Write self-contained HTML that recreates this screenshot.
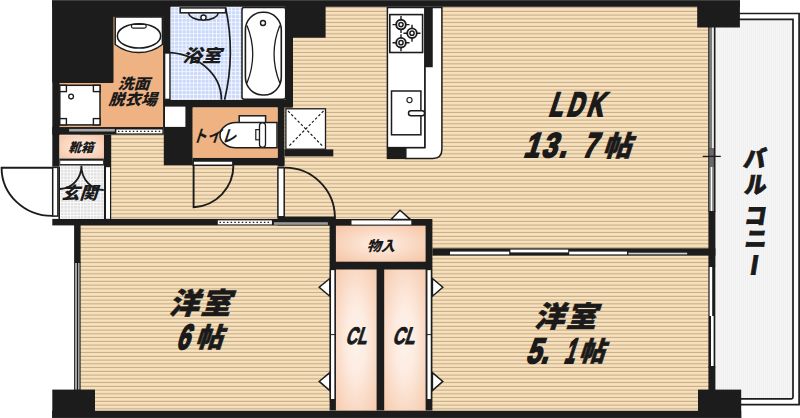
<!DOCTYPE html>
<html lang="ja">
<head>
<meta charset="utf-8">
<title>間取り図</title>
<style>
html,body{margin:0;padding:0;background:#fff;}
body{width:800px;height:418px;overflow:hidden;}
svg{display:block;}
text{font-family:"Liberation Sans","Noto Sans CJK JP",sans-serif;font-weight:900;font-style:normal;fill:#1a1a1a;}
.k{fill:#1c1c1c;}
.w{fill:#fff;stroke:#1c1c1c;stroke-width:1.5;}
.l{fill:none;stroke:#1c1c1c;stroke-width:1.5;}
</style>
</head>
<body>
<svg width="800" height="418" viewBox="0 0 800 418">
<defs>
  <pattern id="wood" x="0" y="0.6" width="8" height="3.75" patternUnits="userSpaceOnUse">
    <rect width="8" height="3.75" fill="#f8e1bd"/>
    <rect y="2.7" width="8" height="0.95" fill="#bfa47e"/>
  </pattern>
  <pattern id="tileb" x="170.4" y="6.6" width="3.8" height="3.8" patternUnits="userSpaceOnUse">
    <rect width="3.8" height="3.8" fill="#f4f7ff"/>
    <rect x="0.9" y="0.9" width="2.9" height="2.9" fill="#c9d8fa"/>
  </pattern>
  <pattern id="tileg" x="60.2" y="165.7" width="3.3" height="3.3" patternUnits="userSpaceOnUse">
    <rect width="3.3" height="3.3" fill="#ffffff"/>
    <rect x="0.7" y="0.7" width="2.6" height="2.6" fill="#e2e2e2"/>
  </pattern>
  <pattern id="balc" x="715" y="0" width="2" height="8" patternUnits="userSpaceOnUse">
    <rect width="2" height="8" fill="#f5f5f5"/>
    <rect width="0.7" height="8" fill="#eeeeee"/>
  </pattern>
  <radialGradient id="stor" cx="50%" cy="50%" r="70%">
    <stop offset="0" stop-color="#feefe6"/>
    <stop offset="1" stop-color="#f6c5a5"/>
  </radialGradient>
  <radialGradient id="clg" cx="50%" cy="50%" r="72%">
    <stop offset="0" stop-color="#fef3ec"/>
    <stop offset="0.35" stop-color="#fdebe0"/>
    <stop offset="1" stop-color="#f6c9ab"/>
  </radialGradient>
</defs>

<!-- floors -->
<rect x="80" y="7" width="630" height="404" fill="url(#wood)"/>
<!-- balcony -->
<rect x="715" y="19" width="78.5" height="379.4" fill="url(#balc)"/>
<path d="M739 13.5H799.1V404.7H741" class="l" style="stroke-width:1.7"/>
<path d="M739 19.3H793V397.2Q793 398.8 791.4 398.8H741" class="l" style="stroke-width:1.7"/>
<!-- walls -->
<g class="k">
<rect x="52.1" y="0.0" width="687.8" height="6.8"/>
<rect x="52.3" y="0.0" width="60.7" height="82.5"/>
<rect x="112.0" y="0.0" width="58.8" height="16.3"/>
<rect x="52.3" y="0.0" width="7.2" height="166.6"/>
<rect x="163.3" y="0.0" width="7.5" height="107.5"/>
<rect x="163.8" y="100.0" width="127.9" height="7.5"/>
<rect x="163.8" y="100.0" width="28.9" height="65.3"/>
<rect x="52.3" y="127.1" width="111.5" height="7.6"/>
<rect x="103.8" y="134.7" width="7.4" height="84.8"/>
<rect x="59.5" y="158.3" width="44.3" height="7.4"/>
<rect x="192.7" y="157.8" width="91.7" height="7.5"/>
<rect x="277.6" y="100.0" width="6.8" height="66.6"/>
<rect x="285.4" y="0.0" width="7.6" height="107.5"/>
<rect x="285.4" y="0.0" width="40.2" height="37.7"/>
<rect x="284.4" y="149.4" width="48.9" height="7.0"/>
<rect x="52.3" y="218.9" width="283.6" height="6.5"/>
<rect x="277.6" y="217.6" width="58.3" height="7.8"/>
<rect x="329.6" y="219.0" width="102.8" height="191.5"/>
<rect x="432.4" y="248.3" width="283.0" height="7.3"/>
<rect x="74.1" y="218.9" width="6.5" height="43.9"/>
<rect x="52.3" y="389.6" width="42.7" height="28.4"/>
<rect x="52.1" y="410.8" width="689.1" height="7.2"/>
<rect x="698.0" y="389.6" width="43.2" height="28.4"/>
<rect x="697.2" y="0.0" width="42.7" height="27.5"/>
<rect x="708.4" y="211.3" width="7.0" height="55.3"/>
<rect x="708.4" y="366.5" width="7.0" height="23.5"/>
<rect x="424.8" y="7.0" width="7.2" height="59.4"/>
<rect x="386.7" y="147.6" width="19.1" height="11.5"/>
</g>
<rect x="52.1" y="0" width="687.8" height="0.8" fill="#4a4a4a"/>
<rect x="52.1" y="417.3" width="689.1" height="0.7" fill="#303030"/>
<!-- washroom -->
<path d="M113 16.3H163.6V127.6H59V82.5H113Z" fill="#eeb283" stroke="#1c1c1c" stroke-width="1"/>
<path d="M115.2 17H162.4V44.5A38.5 38.5 0 0 1 115.2 44.5Z" class="w"/>
<ellipse cx="139" cy="35.9" rx="21.6" ry="12.2" class="w"/>
<rect x="131.4" y="24.3" width="14.8" height="3.8" rx="1.8" class="w" style="stroke-width:1.2"/>
<rect x="59.8" y="85.3" width="40.2" height="39.6" class="w"/>
<rect x="59.8" y="85.3" width="6.6" height="6.3" class="w" style="stroke-width:1.4"/>
<rect x="93.4" y="85.3" width="6.6" height="6.3" class="w" style="stroke-width:1.4"/>
<rect x="59.8" y="118.6" width="6.6" height="6.3" class="w" style="stroke-width:1.4"/>
<rect x="93.4" y="118.6" width="6.6" height="6.3" class="w" style="stroke-width:1.4"/>
<circle cx="71.1" cy="96.6" r="2.4" class="w" style="stroke-width:1.3"/>
<rect x="69.1" y="128.9" width="45.7" height="2.6" fill="#a8a8a8"/>
<rect x="116.4" y="129.5" width="46" height="3.9" fill="#fff"/>
<path d="M118 131.45H161.5" stroke="#1c1c1c" stroke-width="1.3" stroke-dasharray="1.5 2.2" fill="none"/>
<!-- bathroom -->
<rect x="170.4" y="6.9" width="71.6" height="92.8" fill="url(#tileb)"/>
<rect x="242" y="7.6" width="43.7" height="91.7" rx="2.2" class="w"/>
<rect x="245.4" y="12.3" width="35.9" height="82.7" rx="17" ry="18" class="w" style="stroke-width:1.6"/>
<path d="M247 25.5Q258.5 54 247 83" class="l" style="stroke-width:1.3"/>
<path d="M279.8 25.5Q268.3 54 279.8 83" class="l" style="stroke-width:1.3"/>
<circle cx="263" cy="23" r="2.5" class="w" style="stroke-width:1.4"/>
<path d="M188.7 12.8A14.7 7.3 0 0 0 218.1 12.8" class="l"/>
<rect x="180.2" y="7.9" width="45.4" height="4.9" class="w"/>
<circle cx="203.5" cy="17.6" r="2.6" class="w" style="stroke-width:1.4"/>
<path d="M225.6 7.6Q235.6 54 224.6 99.7" class="l" style="stroke-width:1.7"/>
<rect x="164.7" y="52.9" width="5.2" height="46.4" class="w" style="stroke-width:1.2"/>
<path d="M164.8 52.3A56.6 47.4 0 0 1 221.4 99.7" class="l" style="stroke-width:1.8"/>
<!-- utility square -->
<rect x="165" y="106.6" width="20.4" height="20.3" fill="#fff"/>
<!-- toilet -->
<rect x="192.7" y="107.5" width="84.9" height="50.3" fill="#eeb283"/>
<rect x="239.2" y="115.8" width="26.4" height="8" class="w"/>
<path d="M236 122.6H277V147.8H236A16 12.6 0 0 1 236 122.6Z" class="w"/>
<rect x="259.5" y="122.8" width="6" height="24.6" rx="2.8" class="w" style="stroke-width:1.3"/>
<rect x="255.8" y="129.6" width="3.6" height="10.2" class="w" style="stroke-width:1.2"/>
<rect x="193.2" y="161" width="39.7" height="4.3" class="w"/>
<path d="M193.6 165.3V207.3A41.8 41.8 0 0 0 233.4 165.6" class="l" style="stroke-width:1.9"/>
<!-- PS -->
<rect x="285.9" y="108.8" width="39.6" height="40.4" class="w" style="stroke-width:1.3"/>
<path d="M288 111L323.5 147M323.5 111L288 147" stroke="#1c1c1c" stroke-width="1.2" stroke-dasharray="2.6 2" fill="none"/>
<!-- hall door -->
<rect x="277.9" y="167.8" width="6.3" height="49" class="w"/>
<path d="M285 167.6A50 50 0 0 1 334.9 217" class="l" style="stroke-width:1.9"/>
<path d="M277.6 217.4H335.8" class="l" style="stroke-width:1.6"/>
<rect x="217.8" y="220.4" width="54.1" height="4" fill="#fff"/>
<path d="M219.5 222.4H271" stroke="#1c1c1c" stroke-width="1.3" stroke-dasharray="1.5 2.2" fill="none"/>
<rect x="273.9" y="222.2" width="54" height="2.6" fill="#9a9a9a"/>
<!-- shoebox + genkan -->
<rect x="59.5" y="135.2" width="44.3" height="23.2" fill="url(#stor)"/>
<rect x="60.2" y="160.7" width="42.8" height="3.4" fill="#fff"/>
<rect x="59.5" y="165.7" width="44.3" height="53.2" fill="url(#tileg)"/>
<path d="M81.4 165.7A22.5 23 0 0 1 60 189M81.4 165.7A22.5 24 0 0 0 103.8 190" class="l" style="stroke-width:1.8"/>
<rect x="52.7" y="167.4" width="5.2" height="48.7" class="w" style="stroke-width:1.5"/>
<path d="M59.2 166.6V218.9" class="l" style="stroke-width:1.6"/>
<rect x="106" y="167.2" width="4" height="51.6" fill="#fff"/>
<path d="M52.5 167.7H1.6A50.6 48.2 0 0 0 52.5 215.9" class="l" style="stroke-width:1.9"/>
<!-- bedroom1 window -->
<rect x="74.1" y="262" width="6.5" height="128" fill="#1c1c1c"/>
<rect x="75" y="263" width="2" height="126.5" fill="#a2a2a2"/>
<rect x="78" y="263" width="1.6" height="126.5" fill="#a2a2a2"/>
<!-- closets -->
<rect x="335.9" y="225.7" width="89.7" height="36" fill="url(#stor)"/>
<rect x="335.9" y="269.5" width="40.7" height="141" fill="url(#clg)"/>
<rect x="384.2" y="269.5" width="41.4" height="141" fill="url(#clg)"/>
<rect x="351.5" y="220.4" width="59.8" height="4.2" fill="#fff"/>
<path d="M391 219.6L400 210.2L410.5 219.6Z" class="w"/>
<rect x="330.4" y="269.5" width="4.6" height="130.2" class="w" style="stroke-width:1.3"/>
<path d="M330 334.6H335.4" class="l" style="stroke-width:1"/>
<rect x="426.8" y="269.5" width="4.6" height="130.2" class="w" style="stroke-width:1.3"/>
<path d="M426.6 334.6H432" class="l" style="stroke-width:1"/>
<path d="M329.8 278.5L319.2 287.2L329.8 296.2Z" class="w"/>
<path d="M329.8 372.6L319.2 381.4L329.8 390.6Z" class="w"/>
<path d="M432.4 278.5L442.8 287.2L432.4 296.2Z" class="w"/>
<path d="M432.4 372.6L442.8 381.4L432.4 390.6Z" class="w"/>
<!-- sliding doors LDK / bedroom2 -->
<rect x="450" y="251.6" width="59.2" height="2.8" fill="#fff"/>
<rect x="510.4" y="249.6" width="57.8" height="2.8" fill="#fff"/>
<rect x="569.2" y="251.6" width="57.8" height="2.8" fill="#fff"/>
<rect x="628.4" y="252.7" width="58.8" height="1.7" fill="#d2d2d2"/>
<!-- kitchen -->
<path d="M432 7.5H441.9V149.2Q441.9 158.4 432.7 158.4H405.8V147.6H424.8V66.4H432Z" class="w"/>
<rect x="387.4" y="7.5" width="37.4" height="140.1" class="w"/>
<rect x="389.8" y="14.6" width="32.8" height="37.9" class="w" style="stroke-width:1.6"/>
<path d="M392.5 24.6H409.5M401.0 16.1V33.1" class="l" style="stroke-width:1.4"/>
<circle cx="401.0" cy="24.6" r="4.8" class="w" style="stroke-width:1.9"/>
<circle cx="401.0" cy="24.6" r="2.1" class="w" style="stroke-width:1.5"/>
<path d="M403.5 33.2H420.5M412.0 24.7V41.7" class="l" style="stroke-width:1.4"/>
<circle cx="412.0" cy="33.2" r="4.8" class="w" style="stroke-width:1.9"/>
<circle cx="412.0" cy="33.2" r="2.1" class="w" style="stroke-width:1.5"/>
<path d="M392.5 42.7H409.5M401.0 34.2V51.2" class="l" style="stroke-width:1.4"/>
<circle cx="401.0" cy="42.7" r="4.8" class="w" style="stroke-width:1.9"/>
<circle cx="401.0" cy="42.7" r="2.1" class="w" style="stroke-width:1.5"/>
<rect x="391.5" y="91" width="29.4" height="43.8" class="w"/>
<circle cx="409.5" cy="100.1" r="2.6" class="w" style="stroke-width:1.1"/>
<rect x="408.5" y="110.7" width="16.1" height="5" rx="2.5" class="w"/>
<!-- right windows -->
<rect x="708.2" y="27" width="7.3" height="185" fill="#1c1c1c"/>
<rect x="709.2" y="27.5" width="2.9" height="121" fill="#7c7c7c"/>
<rect x="712.1" y="27.5" width="1.7" height="121" fill="#fff"/>
<rect x="709.2" y="148.5" width="4.6" height="18.5" fill="#6a6a6a"/>
<rect x="709.2" y="167" width="1.4" height="44" fill="#7c7c7c"/>
<rect x="710.6" y="167" width="2" height="44" fill="#fff"/>
<rect x="712.6" y="167" width="1.4" height="44" fill="#7c7c7c"/>
<rect x="708.4" y="266" width="6.9" height="101.5" fill="#1c1c1c"/>
<rect x="709.6" y="267" width="2.6" height="49" fill="#fff"/>
<rect x="711" y="316" width="2.6" height="50" fill="#fff"/>
<path d="M702.7 156.4H720.8" class="l" style="stroke-width:1.3"/>
<!-- labels -->
<g><text transform="translate(168.2 313.7) scale(1.026 1.000) skewX(-17.6)" font-size="29.5" letter-spacing="1.5" stroke="#1a1a1a" stroke-width="0.5" vector-effect="non-scaling-stroke">洋室</text></g>
<g><text transform="translate(175.7 348.5) scale(0.658 1.000) skewX(-26.3)" font-size="35.2" stroke="#1a1a1a" stroke-width="1.8" vector-effect="non-scaling-stroke">6</text><text transform="translate(195.0 347.0) scale(1.017 1.000) skewX(-17.7)" font-size="26.9" stroke="#1a1a1a" stroke-width="0.6" vector-effect="non-scaling-stroke">帖</text></g>
<g><text transform="translate(533.5 327.0) scale(1.051 1.000) skewX(-17.2)" font-size="29.0" letter-spacing="1.5" stroke="#1a1a1a" stroke-width="0.5" vector-effect="non-scaling-stroke">洋室</text></g>
<g><text transform="translate(525.3 362.5) scale(0.760 1.000) skewX(-23.2)" font-size="35.3" stroke="#1a1a1a" stroke-width="1.8" vector-effect="non-scaling-stroke">5.</text><text transform="translate(563.5 362.5) scale(0.510 1.000) skewX(-32.5)" font-size="35.3" stroke="#1a1a1a" stroke-width="1.8" vector-effect="non-scaling-stroke">1</text><text transform="translate(578.5 361.0) scale(0.951 1.000) skewX(-18.9)" font-size="26.9" stroke="#1a1a1a" stroke-width="0.6" vector-effect="non-scaling-stroke">帖</text></g>
<g><text transform="translate(548.0 115.5) scale(0.664 1.000) skewX(-26.1)" font-size="33.9" letter-spacing="6" stroke="#1a1a1a" stroke-width="1.8" vector-effect="non-scaling-stroke">LDK</text></g>
<g><text transform="translate(523.0 156.8) scale(0.794 1.000) skewX(-22.3)" font-size="34.6" letter-spacing="3" stroke="#1a1a1a" stroke-width="1.8" vector-effect="non-scaling-stroke">13.</text><text transform="translate(581.7 156.8) scale(0.724 1.000) skewX(-24.2)" font-size="34.6" stroke="#1a1a1a" stroke-width="1.8" vector-effect="non-scaling-stroke">7</text><text transform="translate(602.5 155.5) scale(1.011 1.000) skewX(-17.8)" font-size="28.0" stroke="#1a1a1a" stroke-width="0.6" vector-effect="non-scaling-stroke">帖</text></g>
<g><text transform="translate(182.5 62.0) scale(1.093 1.000) skewX(-16.6)" font-size="17.6" >浴室</text></g>
<g><text transform="translate(117.5 88.5) scale(1.088 1.000) skewX(-16.6)" font-size="14.7" >洗面</text><text transform="translate(108.3 104.5) scale(1.032 1.000) skewX(-17.5)" font-size="15.6" >脱衣場</text></g>
<g><text transform="translate(192.0 142.0) scale(0.869 1.000) skewX(-20.5)" font-size="16.8" style="font-weight:700">トイレ</text></g>
<g><text transform="translate(68.2 152.0) scale(0.999 1.000) skewX(-18.0)" font-size="12.5" >靴箱</text></g>
<g><text transform="translate(61.2 199.2) scale(1.056 1.000) skewX(-17.1)" font-size="17.1" >玄関</text></g>
<g><text transform="translate(366.5 251.3) scale(1.003 1.000) skewX(-17.9)" font-size="14.2" >物入</text></g>
<g><text transform="translate(345.0 344.2) scale(0.662 1.000) skewX(-26.1)" font-size="23.9" stroke="#1a1a1a" stroke-width="0.9" vector-effect="non-scaling-stroke">CL</text></g>
<g><text transform="translate(392.0 344.2) scale(0.694 1.000) skewX(-25.1)" font-size="23.9" stroke="#1a1a1a" stroke-width="0.9" vector-effect="non-scaling-stroke">CL</text></g>
<text transform="scale(0.950 1) skewX(-9.5)" font-size="23.0" x="809.8 815.1 820.1 824.5 829.8" y="167.5 192.9 223.8 247.3 253.4" rotate="0 0 0 0 90" stroke="#1a1a1a" stroke-width="0.9" vector-effect="non-scaling-stroke">バルコニー</text>
</svg>
</body>
</html>
